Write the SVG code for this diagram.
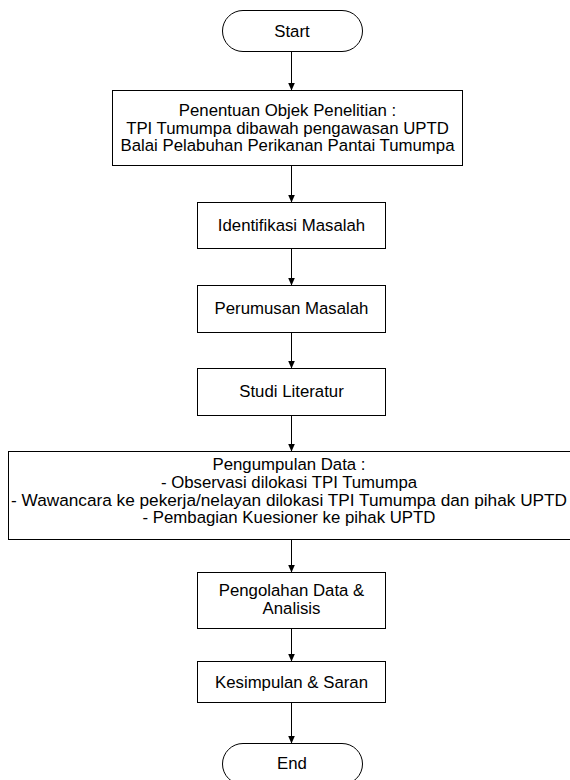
<svg xmlns="http://www.w3.org/2000/svg" width="570" height="780" viewBox="0 0 570 780">
<defs>
<style>
.n{fill:#fff;stroke:#000;stroke-width:1}
.t{font-family:"Liberation Sans",Arial,sans-serif;font-size:16.8px;fill:#000;text-anchor:middle}
.c{stroke:#000;stroke-width:1;fill:none;marker-end:url(#a)}
</style>
<marker id="a" viewBox="0 0 8 8" refX="7.5" refY="4" markerWidth="8" markerHeight="8" markerUnits="userSpaceOnUse" orient="auto">
<path d="M0,0.5 L8,4 L0,7.5 Z" fill="#000"/>
</marker>
</defs>
<rect width="570" height="780" fill="#fff"/>
<g id="connectors">
<line class="c" x1="291.5" y1="52" x2="291.5" y2="90"/>
<line class="c" x1="291.5" y1="166" x2="291.5" y2="202"/>
<line class="c" x1="291.5" y1="249" x2="291.5" y2="285"/>
<line class="c" x1="291.5" y1="333" x2="291.5" y2="368"/>
<line class="c" x1="291.5" y1="416" x2="291.5" y2="451"/>
<line class="c" x1="291.5" y1="540" x2="291.5" y2="572"/>
<line class="c" x1="291.5" y1="629" x2="291.5" y2="661"/>
<line class="c" x1="291.5" y1="703" x2="291.5" y2="743"/>
</g>
<g id="start">
<rect class="n" x="222.5" y="10.5" width="140" height="41" rx="20.5"/>
<text class="t" x="292" y="37">Start</text>
</g>
<g id="objek">
<rect class="n" x="112.5" y="90.5" width="350" height="75"/>
<text class="t" x="287.5" y="116">Penentuan Objek Penelitian :</text>
<text class="t" x="287.5" y="133.5">TPI Tumumpa dibawah pengawasan UPTD</text>
<text class="t" x="287.5" y="151">Balai Pelabuhan Perikanan Pantai Tumumpa</text>
</g>
<g id="identifikasi">
<rect class="n" x="197.5" y="202.5" width="188" height="46"/>
<text class="t" x="291.5" y="231">Identifikasi Masalah</text>
</g>
<g id="perumusan">
<rect class="n" x="197.5" y="285.5" width="188" height="47"/>
<text class="t" x="291.5" y="314">Perumusan Masalah</text>
</g>
<g id="studi">
<rect class="n" x="197.5" y="368.5" width="188" height="47"/>
<text class="t" x="291.5" y="397">Studi Literatur</text>
</g>
<g id="pengumpulan">
<rect class="n" x="8.5" y="451.5" width="562" height="88"/>
<text class="t" x="289" y="470">Pengumpulan Data :</text>
<text class="t" x="289" y="488">- Observasi dilokasi TPI Tumumpa</text>
<text class="t" x="289" y="505.5" textLength="556" lengthAdjust="spacingAndGlyphs">- Wawancara ke pekerja/nelayan dilokasi TPI Tumumpa dan pihak UPTD</text>
<text class="t" x="289" y="523">- Pembagian Kuesioner ke pihak UPTD</text>
</g>
<g id="pengolahan">
<rect class="n" x="197.5" y="572.5" width="188" height="56"/>
<text class="t" x="291.5" y="596">Pengolahan Data &amp;</text>
<text class="t" x="291.5" y="614">Analisis</text>
</g>
<g id="kesimpulan">
<rect class="n" x="197.5" y="661.5" width="188" height="41"/>
<text class="t" x="291.5" y="688">Kesimpulan &amp; Saran</text>
</g>
<g id="end">
<rect class="n" x="222.5" y="743.5" width="140" height="41" rx="20.5"/>
<text class="t" x="292" y="769">End</text>
</g>
</svg>
